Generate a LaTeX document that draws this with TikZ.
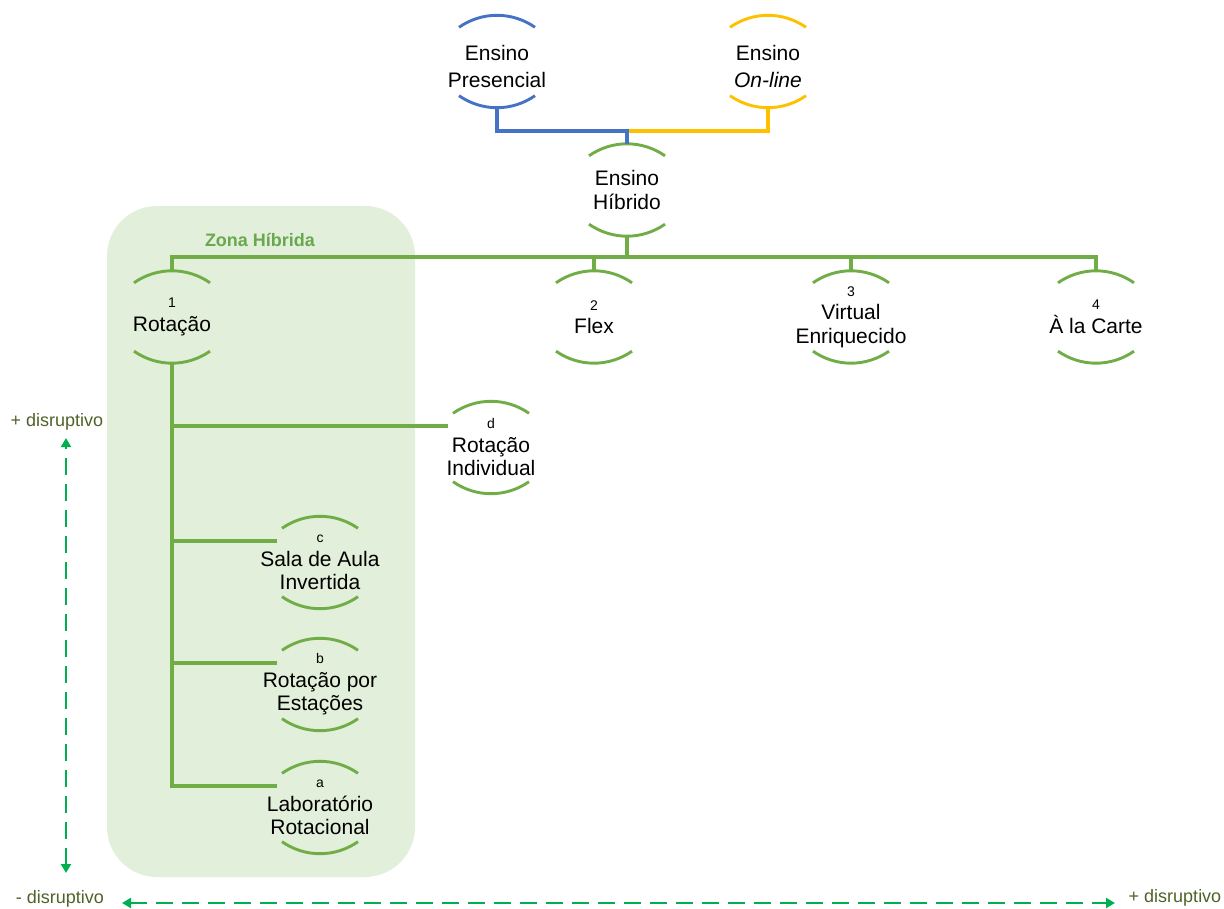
\documentclass[tikz,border=0pt]{standalone}
\usepackage{fontspec}
\setmainfont{Liberation Sans}
\usetikzlibrary{arrows.meta}
\definecolor{gline}{HTML}{70AD47}
\definecolor{bline}{HTML}{4472C4}
\definecolor{yline}{HTML}{FFC000}
\definecolor{zonefill}{HTML}{E2EFDA}
\definecolor{zonetxt}{HTML}{6AA84F}
\definecolor{arrcol}{HTML}{00B050}
\definecolor{dtxt}{HTML}{4F6228}
\newcommand{\smlbl}[1]{{\fontsize{14}{14}\selectfont #1}}
\newcommand{\toptxt}[2]{\raisebox{0pt}[\dimexpr\height+16pt\relax]{\begin{tabular}{@{}c@{}}#1\\[3.5pt]#2\end{tabular}}}
\begin{document}
\begin{tikzpicture}[x=1pt,y=1pt,
  cnode/.style={rectangle, inner sep=0pt, minimum width=78pt, minimum height=92pt,
    align=center, font=\fontsize{21}{23.5}\selectfont, text=black},
  conn/.style={line width=3.1pt},
  disr/.style={arrcol, line width=2.2pt, dash pattern=on 17pt off 9pt,
    {Triangle[length=9pt,width=10pt]}-{Triangle[length=9pt,width=10pt]}},
  dlab/.style={text=dtxt, font=\fontsize{18}{20}\selectfont, inner sep=0pt},
  zlabel/.style={text=zonetxt, font=\bfseries\fontsize{18}{20}\selectfont, inner sep=0pt}
]
\useasboundingbox (0,0) rectangle (1224,-909);

% zone
\fill[zonefill, rounded corners=50pt] (107,-206) rectangle (415,-877);
\node[zlabel] (zlab) at (260,-240) {Zona Híbrida};

% nodes
\node[cnode] (pres) at (497,-61.5) {\toptxt{Ensino}{Presencial}};
\node[cnode] (onl) at (768,-61.5) {\toptxt{Ensino}{\textit{On-line}}};
\node[cnode] (hib) at (627,-190) {Ensino\\Híbrido};
\node[cnode] (rot) at (172,-317) {\smlbl{1}\\Rotação};
\node[cnode] (flex) at (594,-317) {\smlbl{2}\\Flex};
\node[cnode] (virt) at (851,-317) {\smlbl{3}\\Virtual\\Enriquecido};
\node[cnode] (carte) at (1096,-317) {\smlbl{4}\\À la Carte};
\node[cnode] (rind) at (491,-447.5) {\smlbl{d}\\Rotação\\Individual};
\node[cnode] (sala) at (320,-562.5) {\smlbl{c}\\Sala de Aula\\Invertida};
\node[cnode] (est) at (320,-684.5) {\smlbl{b}\\Rotação por\\Estações};
\node[cnode] (lab) at (320,-807.5) {\smlbl{a}\\Laboratório\\Rotacional};

% arcs
\foreach \n/\c in {pres/bline, onl/yline, hib/gline, rot/gline, flex/gline, virt/gline,
  carte/gline, rind/gline, sala/gline, est/gline, lab/gline}{
  \draw[line width=2.9pt, \c] ([shift={(-38,-12)}]\n.north) .. controls ([shift={(-15,4)}]\n.north)
    and ([shift={(15,4)}]\n.north) .. ([shift={(38,-12)}]\n.north);
  \draw[line width=2.9pt, \c] ([shift={(-38,12)}]\n.south) .. controls ([shift={(-15,-4)}]\n.south)
    and ([shift={(15,-4)}]\n.south) .. ([shift={(38,12)}]\n.south);
}

% top connectors
\coordinate (jn) at (627,-131);
\draw[conn, yline] (onl.south) |- (jn);
\draw[conn, bline] (pres.south) |- (jn) -- (hib.north);

% hybrid bus
\coordinate (hj) at (627,-257);
\draw[conn, gline] (hib.south) -- (hj);
\draw[conn, gline] (rot.north) |- (hj) -| (carte.north);
\draw[conn, gline] (flex.north) -- (flex.north |- hj);
\draw[conn, gline] (virt.north) -- (virt.north |- hj);

% rotation branches
\coordinate (brd) at ([shift={(-43,21.5)}]rind.center);
\coordinate (bsa) at ([shift={(-43,21.5)}]sala.center);
\coordinate (bes) at ([shift={(-43,21.5)}]est.center);
\coordinate (bla) at ([shift={(-43,21.5)}]lab.center);
\draw[conn, gline] (rot.south) |- (bla);
\draw[conn, gline] (rot.south |- brd) -- (brd);
\draw[conn, gline] (rot.south |- bsa) -- (bsa);
\draw[conn, gline] (rot.south |- bes) -- (bes);

% disruption axes
\node[dlab] (dup) at (57,-422) {+ disruptivo};
\node[dlab] (dlow) at (60,-899) {- disruptivo};
\node[dlab] (dright) at (1175,-898) {+ disruptivo};
\coordinate (vtop) at (66,-438);
\coordinate (vbot) at (66,-873);
\coordinate (hleft) at (122,-903);
\coordinate (hright) at (1115,-903);
\draw[disr] (vbot) -- (vtop);
\draw[disr] (hleft) -- (hright);
\end{tikzpicture}
\end{document}
